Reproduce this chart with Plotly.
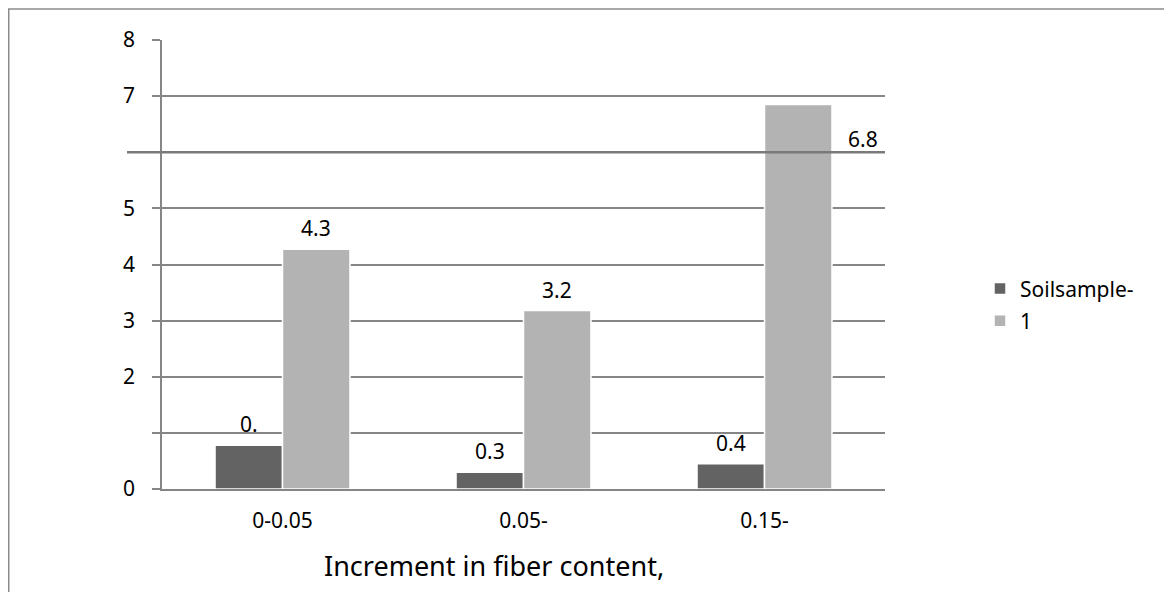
import plotly.graph_objects as go

categories = ["0-0.05", "0.05-", "0.15-"]
dark_values = [0.78, 0.3, 0.45]
dark_labels = ["0.", "0.3", "0.4"]
light_values = [4.27, 3.18, 6.85]
light_labels = ["4.3", "3.2", ""]
offset_label = "6.8"
offset_label_y = 6
series_names = ["Soilsample-", "1"]
y_tickvals = [0, 1, 2, 3, 4, 5, 6, 7, 8]
y_ticktext = ["0", "", "2", "3", "4", "5", "", "7", "8"]
x_title = "Increment in fiber content,"

FONT = "Noto Sans"
# page has an 8px body margin, so the figure is shifted; compensate
W, H = 1164, 584
L, T = 154, 32
pw, ph = 723, 449
R, B = W - L - pw, H - T - ph
BARGAP = 0.44
half = (1 - BARGAP) / 4  # offset of each bar centre from category centre
FS = 21

fig = go.Figure()
fig.add_trace(go.Bar(
    x=categories, y=dark_values, name=series_names[0], legendgroup="a",
    marker=dict(color="#636363", line=dict(color="white", width=1.5)),
    hoverinfo="skip",
))
fig.add_trace(go.Bar(
    x=categories, y=light_values, name=series_names[1], legendgroup="b",
    marker=dict(color="#b3b3b3", line=dict(color="white", width=1.5)),
    hoverinfo="skip",
))

lab_font = dict(size=FS, color="black", family=FONT)
for i, (v, t) in enumerate(zip(dark_values, dark_labels)):
    if t:
        fig.add_annotation(x=i - half, y=v, text=t, showarrow=False,
                           yanchor="bottom", yshift=5, font=lab_font)
for i, (v, t) in enumerate(zip(light_values, light_labels)):
    if t:
        fig.add_annotation(x=i + half, y=v, text=t, showarrow=False,
                           yanchor="bottom", yshift=5, font=lab_font)

fig.add_annotation(x=2 + half, y=offset_label_y, text=offset_label,
                   xshift=65, yshift=-3, yanchor="bottom", showarrow=False,
                   font=lab_font)

# x-axis title (offset to the left as in the original)
fig.add_annotation(xref="paper", yref="paper", x=(494 - 162) / pw,
                   y=(489 - 565) / ph, text=x_title, showarrow=False,
                   xanchor="center", yanchor="middle",
                   font=dict(size=27, family=FONT, color="black"))

# thicker line at 6, extended to the left
fig.add_shape(type="line", xref="paper", yref="y",
              x0=(119 - L) / pw, x1=1, y0=6, y1=6,
              line=dict(color="#7a7a7a", width=2.5))
# outer chart border
fig.add_shape(type="rect", xref="paper", yref="paper",
              x0=(0.75 - L) / pw, x1=(1250 - L) / pw,
              y0=(H - T - 700) / ph, y1=1 + (T - 1) / ph,
              line=dict(color="#8c8c8c", width=1.5), layer="below")

fig.update_layout(
    width=W, height=H,
    margin=dict(l=L, r=R, t=T, b=B),
    plot_bgcolor="white", paper_bgcolor="white",
    barmode="group", bargap=BARGAP, bargroupgap=0,
    font=dict(family=FONT, size=FS, color="black"),
    showlegend=True,
    legend=dict(x=(972 - L) / pw, y=0.41, xanchor="left", yanchor="middle",
                font=dict(size=FS, family=FONT, color="black"),
                tracegroupgap=2, itemwidth=30),
    xaxis=dict(
        range=[-0.5, len(categories) - 0.5],
        showline=True, linecolor="#868686", linewidth=1.5,
        ticks="outside", ticklen=12, tickcolor="rgba(0,0,0,0)",
        showgrid=False,
        tickfont=dict(size=FS),
    ),
    yaxis=dict(
        range=[0, 8], tickvals=y_tickvals, ticktext=y_ticktext,
        showgrid=True, gridcolor="#868686", gridwidth=1.5,
        showline=True, linecolor="#868686", linewidth=1.5,
        ticks="outside", ticklen=8, tickcolor="#868686", tickwidth=1.5,
        ticklabelstandoff=13,
        zeroline=False, tickfont=dict(size=FS),
    ),
)

fig.write_html("out.html")
